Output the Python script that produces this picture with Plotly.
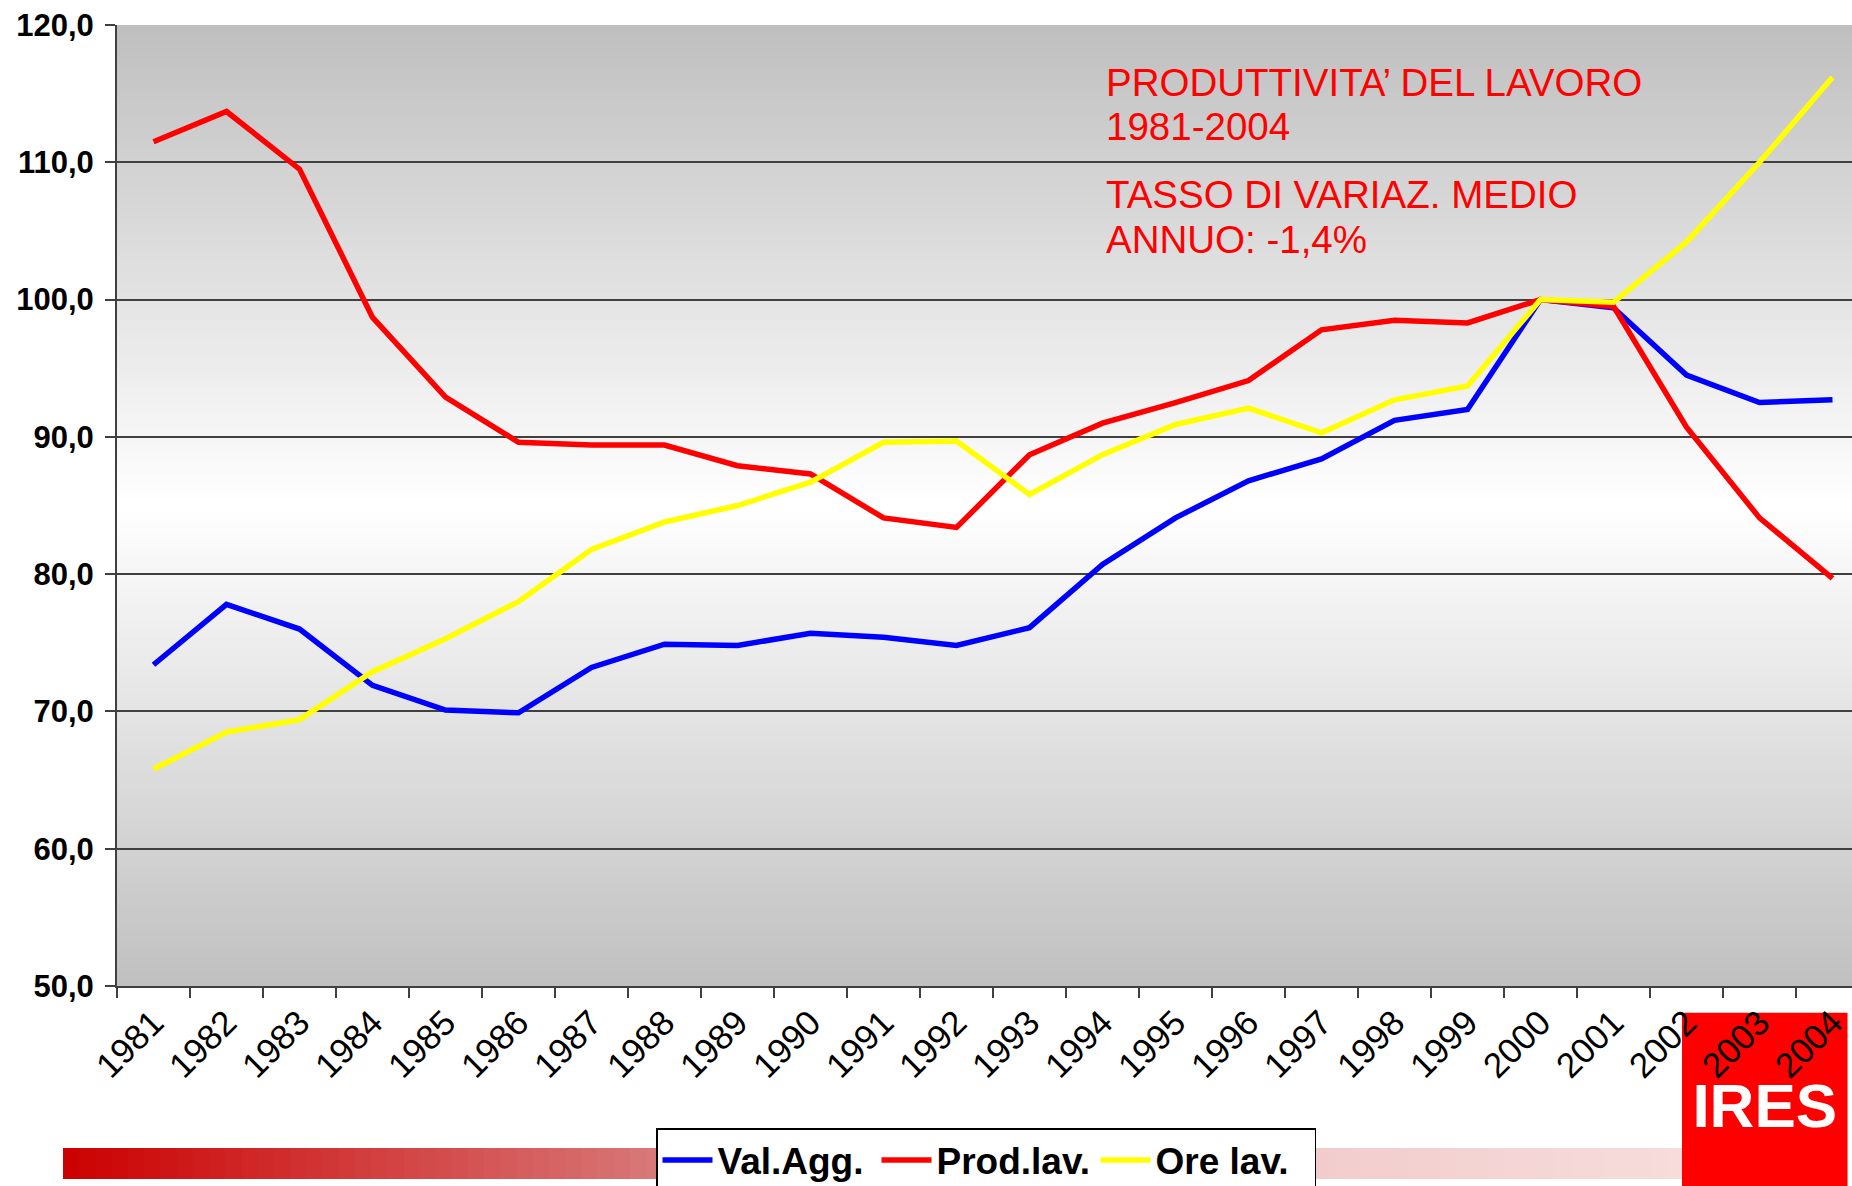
import plotly.graph_objects as go

years = [str(y) for y in range(1981, 2005)]
val_agg = [73.4, 77.8, 76.0, 71.9, 70.1, 69.9, 73.2, 74.9, 74.8, 75.7, 75.4, 74.8,
           76.1, 80.7, 84.1, 86.8, 88.4, 91.2, 92.0, 100.0, 99.4, 94.5, 92.5, 92.7]
prod_lav = [111.5, 113.7, 109.5, 98.7, 92.9, 89.6, 89.4, 89.4, 87.9, 87.3, 84.1, 83.4,
            88.7, 91.0, 92.5, 94.1, 97.8, 98.5, 98.3, 100.0, 99.5, 90.7, 84.1, 79.7]
ore_lav = [65.8, 68.5, 69.4, 72.9, 75.3, 78.0, 81.8, 83.8, 85.0, 86.7, 89.6, 89.7,
           85.8, 88.7, 90.9, 92.1, 90.3, 92.7, 93.7, 100.0, 99.8, 104.2, 110.0, 116.2]
series_names = ["Val.Agg.", "Prod.lav.", "Ore lav."]
series_colors = ["#0000ff", "#ff0000", "#ffff00"]
note_lines = ["PRODUTTIVITA\u2019 DEL LAVORO", "1981-2004", "TASSO DI VARIAZ. MEDIO", "ANNUO: -1,4%"]

W, H = 1852, 1186
L, R, T, B = 117, 0, 25, 200
PW = W - L - R
PH = H - T - B
CAT = 73.0


def px_x(px):
    return (px - L) / PW


def px_y(py):
    return (H - B - py) / PH


fig = go.Figure()
for name, vals, col in zip(series_names, [val_agg, prod_lav, ore_lav], series_colors):
    fig.add_trace(go.Scatter(x=years, y=vals, mode="lines", name=name,
                             line=dict(color=col, width=5.5)))

shapes = []
# plot-area background gradient (gray - white - gray)
center = 85.0
step = 0.5
v = 50.0
while v < 120.0 - 1e-9:
    mid = v + step / 2
    if mid >= center:
        c = 255 - (mid - center) / (120 - center) * 64
    else:
        c = 255 - (center - mid) / (center - 50) * 63
    c = int(round(c))
    shapes.append(dict(type="rect", xref="x domain", yref="y", x0=0, x1=1,
                       y0=v, y1=min(120, v + step + 0.06), layer="below",
                       line=dict(width=0), fillcolor=f"rgb({c},{c},{c})"))
    v += step

# red gradient bar at bottom
stops = [(63, (204, 0, 0)), (655, (216, 120, 120)), (1330, (242, 205, 205)), (1683, (247, 220, 220))]


def bar_color(px):
    for (xa, ca), (xb, cb) in zip(stops[:-1], stops[1:]):
        if xa <= px <= xb:
            f = (px - xa) / (xb - xa)
            return tuple(int(round(ca[i] + (cb[i] - ca[i]) * f)) for i in range(3))
    return stops[-1][1]


nb = 100
x0p, x1p = 63, 1683
for i in range(nb):
    a = x0p + (x1p - x0p) * i / nb
    b = x0p + (x1p - x0p) * (i + 1) / nb
    r_, g_, b_ = bar_color((a + b) / 2)
    shapes.append(dict(type="rect", xref="paper", yref="paper",
                       x0=px_x(a), x1=px_x(b + 1.0), y0=px_y(1179), y1=px_y(1148),
                       layer="below", line=dict(width=0),
                       fillcolor=f"rgb({r_},{g_},{b_})"))

# logo block
shapes.append(dict(type="rect", xref="paper", yref="paper",
                   x0=px_x(1682), x1=px_x(1847.5), y0=px_y(1186), y1=px_y(1012.7),
                   layer="below", line=dict(width=0), fillcolor="#ff0000",
                   label=dict(text="IRES", textposition="middle center",
                              font=dict(family="Liberation Sans, Arial", size=62,
                                        color="white", weight="bold"))))

annotations = []
centers = [82, 127, 194, 239.5]
for txt, cy in zip(note_lines, centers):
    annotations.append(dict(text=txt, xref="paper", yref="paper", x=px_x(1104), y=px_y(cy),
                            xanchor="left", yanchor="middle", showarrow=False,
                            font=dict(family="Liberation Sans, Arial", size=38.5, color="#ff0000")))

fig.update_layout(
    width=W, height=H,
    margin=dict(l=L, r=R, t=T, b=B, pad=0, autoexpand=False),
    paper_bgcolor="white",
    plot_bgcolor="rgba(0,0,0,0)",
    separators=",.",
    shapes=shapes,
    annotations=annotations,
    showlegend=True,
    legend=dict(orientation="h", x=px_x(656), y=px_y(1128), xanchor="left", yanchor="top",
                bgcolor="white", bordercolor="black", borderwidth=1.5,
                font=dict(family="Liberation Sans, Arial", size=37, color="black", weight="bold"),
                itemwidth=50, entrywidth=154, tracegroupgap=0),
    xaxis=dict(type="category", range=[-0.5, -0.5 + PW / CAT], showgrid=False,
               ticks="outside", tickson="boundaries", ticklen=10, tickwidth=1.5,
               tickcolor="#404040", showline=True, linecolor="#404040", linewidth=2,
               tickangle=-45, tickfont=dict(family="Liberation Sans, Arial", size=35, color="black"),
               zeroline=False),
    yaxis=dict(range=[50, 120], dtick=10, tick0=50, tickformat=".1f", showgrid=True,
               gridcolor="#404040", gridwidth=1.5, ticks="outside", ticklen=10, tickwidth=1.5,
               tickcolor="#404040", showline=True, linecolor="#404040", linewidth=2,
               tickfont=dict(family="Liberation Sans, Arial", size=31, color="black", weight="bold"),
               ticklabelstandoff=5, zeroline=False),
)

fig.write_html("out.html", config={"displayModeBar": False},
               post_script="document.body.style.margin='0';document.body.style.overflow='hidden';")
